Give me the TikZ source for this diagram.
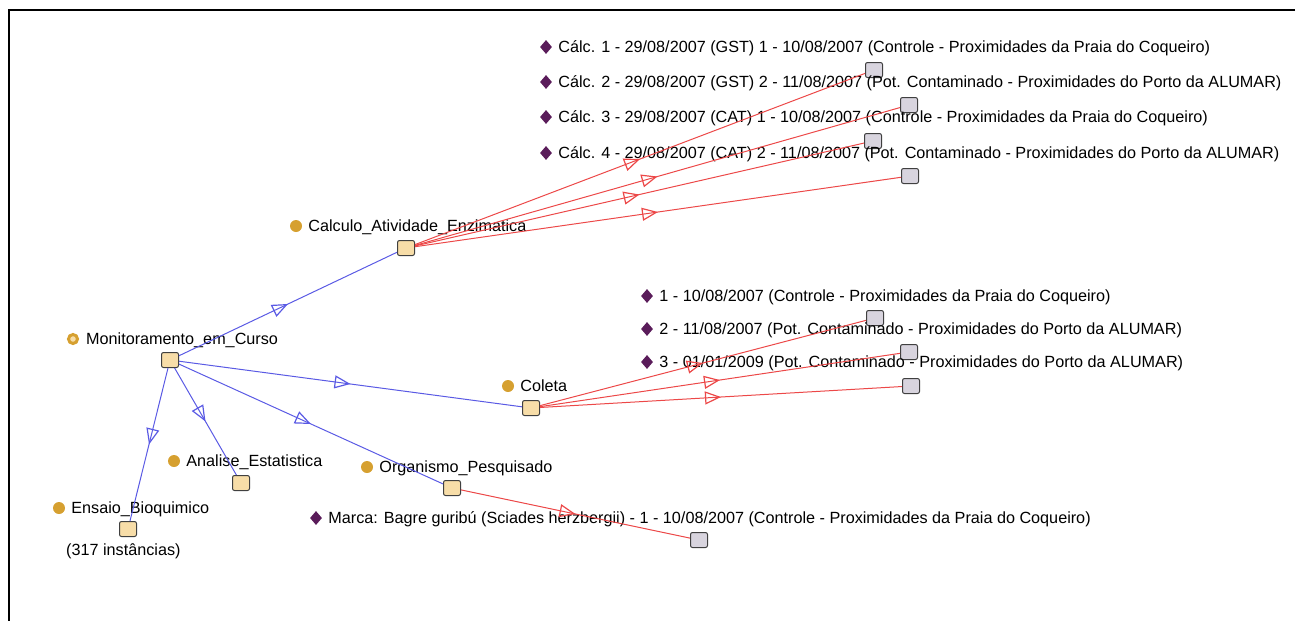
\documentclass[tikz,border=0pt]{standalone}
\usepackage{fontspec}
\setmainfont{Liberation Sans}
\usetikzlibrary{positioning,shapes.geometric,arrows.meta,decorations.markings}
\definecolor{clsfill}{RGB}{247,221,168}
\definecolor{indfill}{RGB}{216,212,222}
\definecolor{clsdot}{RGB}{214,160,48}
\definecolor{inddia}{RGB}{90,28,90}
\definecolor{isablue}{RGB}{90,90,228}
\definecolor{isared}{RGB}{236,72,72}
\begin{document}
\begin{tikzpicture}[x=1pt,y=-1pt,
  clsbox/.style={draw=black!75,fill=clsfill,line width=1pt,rounded corners=2pt,minimum width=17pt,minimum height=15pt,inner sep=0pt},
  indbox/.style={clsbox,fill=indfill},
  clsdotnode/.style={circle,fill=clsdot,minimum size=12pt,inner sep=0pt},
  ringnode/.style={circle,draw=clsdot,line width=3pt,fill=clsfill,minimum size=9pt,inner sep=0pt},
  inddianode/.style={diamond,fill=inddia,minimum width=12pt,minimum height=14pt,inner sep=0pt},
  lbl/.style={inner sep=0pt,text height=11.6pt,text depth=0pt,font=\fontsize{16.2}{19}\selectfont},
  midtri/.style={postaction={decorate},decoration={markings,mark=at position 0.5 with {\arrow{Triangle[open,length=16pt,width=13pt,line width=1.2pt]}}}},
  subedge/.style={isablue,line width=1pt,midtri},
  typeedge/.style={isared,line width=1pt,midtri}]
\useasboundingbox (0,0) rectangle (1297,621);
\draw[line width=2pt] (1295,10) -- (9,10) -- (9,621);

\node[clsbox] (mon) at (170,360) {};
\node[clsbox] (calc) at (406,248) {};
\node[clsbox] (col) at (531,408) {};
\node[clsbox] (org) at (452,488) {};
\node[clsbox] (ana) at (241,483) {};
\node[clsbox] (ens) at (128,529) {};

\node[indbox] (calc1) at (874,70) {};
\node[indbox] (calc2) at (909,105) {};
\node[indbox] (calc3) at (873,141) {};
\node[indbox] (calc4) at (910,176) {};
\node[indbox] (col1) at (875,318) {};
\node[indbox] (col2) at (909,352) {};
\node[indbox] (col3) at (911,386) {};
\node[indbox] (org1) at (699,540) {};

\node[ringnode] (mond) at (73,339) {};
\node[lbl,right=7pt of mond] (monl) {Monitoramento\_em\_Curso};
\node[clsdotnode] (calcd) at (296,226) {};
\node[lbl,right=6pt of calcd] (calcl) {Calculo\_Atividade\_Enzimatica};
\node[clsdotnode] (cold) at (508,386) {};
\node[lbl,right=6pt of cold] (coll) {Coleta};
\node[clsdotnode] (orgd) at (367,467) {};
\node[lbl,right=6pt of orgd] (orgl) {Organismo\_Pesquisado};
\node[clsdotnode] (anad) at (174,461) {};
\node[lbl,right=6pt of anad] (anal) {Analise\_Estatistica};
\node[clsdotnode] (ensd) at (59,508) {};
\node[lbl,right=6pt of ensd] (ensl) {Ensaio\_Bioquimico};
\node[lbl,anchor=west] (ensn) at (66,550) {(317 instâncias)};

\node[inddianode] (calc1d) at (546,47) {};
\node[lbl,right=6pt of calc1d] (calc1l) {Cálc. 1 - 29/08/2007 (GST) 1 - 10/08/2007 (Controle - Proximidades da Praia do Coqueiro)};
\node[inddianode] (calc2d) at (546,82) {};
\node[lbl,right=6pt of calc2d] (calc2l) {Cálc. 2 - 29/08/2007 (GST) 2 - 11/08/2007 (Pot. Contaminado - Proximidades do Porto da ALUMAR)};
\node[inddianode] (calc3d) at (546,117) {};
\node[lbl,right=6pt of calc3d] (calc3l) {Cálc. 3 - 29/08/2007 (CAT) 1 - 10/08/2007 (Controle - Proximidades da Praia do Coqueiro)};
\node[inddianode] (calc4d) at (546,153) {};
\node[lbl,right=6pt of calc4d] (calc4l) {Cálc. 4 - 29/08/2007 (CAT) 2 - 11/08/2007 (Pot. Contaminado - Proximidades do Porto da ALUMAR)};
\node[inddianode] (col1d) at (647,296) {};
\node[lbl,right=6pt of col1d] (col1l) {1 - 10/08/2007 (Controle - Proximidades da Praia do Coqueiro)};
\node[inddianode] (col2d) at (647,329) {};
\node[lbl,right=6pt of col2d] (col2l) {2 - 11/08/2007 (Pot. Contaminado - Proximidades do Porto da ALUMAR)};
\node[inddianode] (col3d) at (647,362) {};
\node[lbl,right=6pt of col3d] (col3l) {3 - 01/01/2009 (Pot. Contaminado - Proximidades do Porto da ALUMAR)};
\node[inddianode] (org1d) at (316,518) {};
\node[lbl,right=6pt of org1d] (org1l) {Marca: Bagre guribú (Sciades herzbergii) - 1 - 10/08/2007 (Controle - Proximidades da Praia do Coqueiro)};

\draw[subedge] (mon) -- (calc);
\draw[subedge] (mon) -- (col);
\draw[subedge] (mon) -- (org);
\draw[subedge] (mon) -- (ana);
\draw[subedge] (mon) -- (ens);

\draw[typeedge] (calc) -- (calc1);
\draw[typeedge] (calc) -- (calc2);
\draw[typeedge] (calc) -- (calc3);
\draw[typeedge] (calc) -- (calc4);
\draw[typeedge] (col) -- (col1);
\draw[typeedge] (col) -- (col2);
\draw[typeedge] (col) -- (col3);
\draw[typeedge] (org) -- (org1);
\end{tikzpicture}
\end{document}
